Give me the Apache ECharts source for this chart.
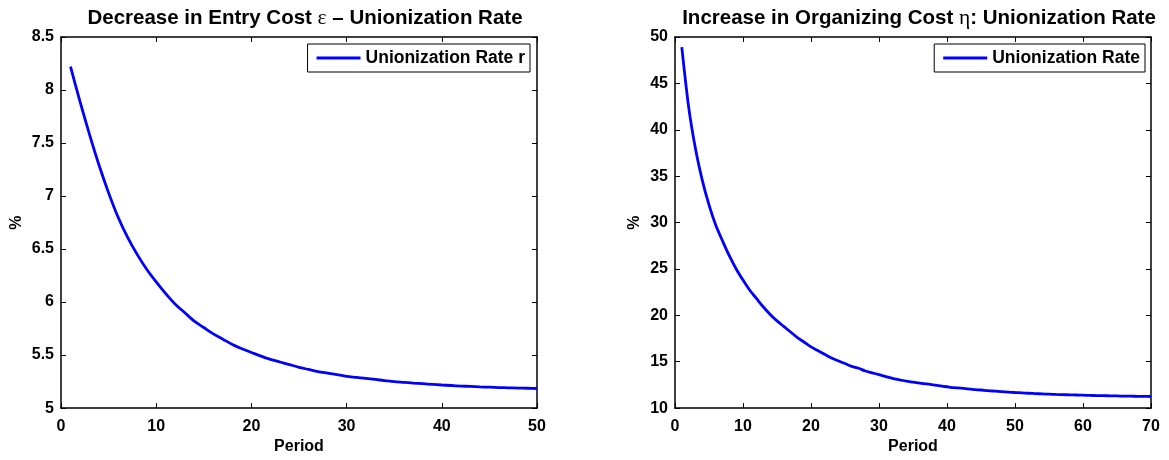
<!DOCTYPE html>
<html>
<head>
<meta charset="utf-8">
<script src="https://cdn.jsdelivr.net/npm/echarts@6/dist/echarts.min.js"></script>
<style>
html,body{margin:0;padding:0;background:#fff;}
#chart{width:1169px;height:460px;}
</style>
</head>
<body>
<div id="chart"></div>
<script>
// ---- Data ----
const leftTitle = ['Decrease in Entry Cost ', 'ε', ' – Unionization Rate'];
const rightTitle = ['Increase in Organizing Cost ', 'η', ': Unionization Rate'];
const leftSeriesName = 'Unionization Rate r';
const rightSeriesName = 'Unionization Rate';
const xAxisName = 'Period';
const yAxisName = '%';

const leftPeriods = Array.from({length: 50}, (_, i) => i + 1);
const leftRate = [
  8.22, 7.89, 7.58, 7.29, 7.03, 6.80, 6.61, 6.45, 6.31, 6.19,
  6.08, 5.98, 5.90, 5.82, 5.76, 5.70, 5.65, 5.60, 5.56, 5.525,
  5.49, 5.46, 5.435, 5.41, 5.385, 5.365, 5.345, 5.33, 5.315, 5.30,
  5.29, 5.28, 5.27, 5.26, 5.25, 5.243, 5.236, 5.23, 5.224, 5.218,
  5.213, 5.208, 5.204, 5.20, 5.197, 5.194, 5.191, 5.189, 5.187, 5.185
];

const rightPeriods = Array.from({length: 70}, (_, i) => i + 1);
const rightRate = [
  48.9, 42.5, 38.0, 34.6, 31.9, 29.7, 28.0, 26.4, 25.0, 23.8,
  22.7, 21.8, 20.9, 20.1, 19.4, 18.8, 18.2, 17.6, 17.1, 16.6,
  16.2, 15.8, 15.4, 15.1, 14.8, 14.5, 14.3, 14.0, 13.8, 13.6,
  13.4, 13.2, 13.05, 12.9, 12.8, 12.7, 12.6, 12.5, 12.4, 12.3,
  12.2, 12.15, 12.08, 12.0, 11.95, 11.88, 11.83, 11.78, 11.73, 11.68,
  11.64, 11.6, 11.56, 11.53, 11.5, 11.47, 11.45, 11.43, 11.41, 11.39,
  11.37, 11.35, 11.34, 11.32, 11.31, 11.29, 11.28, 11.27, 11.26, 11.25
];

const leftX = {min: 0, max: 50, interval: 10};
const leftY = {min: 5, max: 8.5, interval: 0.5};
const rightX = {min: 0, max: 70, interval: 10};
const rightY = {min: 10, max: 50, interval: 5};

// ---- Styling / layout ----
const FONT = '"Liberation Sans", Arial, Helvetica, sans-serif';
const SERIF = '"Liberation Serif", "DejaVu Serif", serif';
const BLUE = '#0000ff';
const grids = [
  {left: 61, top: 37, width: 476, height: 373},
  {left: 675, top: 37, width: 476, height: 373}
];

function pairs(xs, ys) { return xs.map((x, i) => [x, ys[i]]); }

function mkAxes(gi, xs, ys, yNameGap) {
  const line = {show: true, onZero: false, lineStyle: {color: '#000', width: 1.5}};
  const tick = {show: true, inside: true, length: 5, lineStyle: {color: '#000', width: 1}};
  const lbl = {color: '#000', fontFamily: FONT, fontWeight: 'bold', fontSize: 16};
  const xa = [
    {type: 'value', gridIndex: gi, position: 'bottom', min: xs.min, max: xs.max, interval: xs.interval,
     axisLine: line, axisTick: tick, splitLine: {show: false},
     axisLabel: Object.assign({margin: 10}, lbl),
     name: xAxisName, nameLocation: 'middle', nameGap: 29,
     nameTextStyle: {color: '#000', fontFamily: FONT, fontWeight: 'bold', fontSize: 16}},
    {type: 'value', gridIndex: gi, position: 'top', min: xs.min, max: xs.max, interval: xs.interval,
     axisLine: line, axisTick: tick, splitLine: {show: false}, axisLabel: {show: false}}
  ];
  const ya = [
    {type: 'value', gridIndex: gi, position: 'left', min: ys.min, max: ys.max, interval: ys.interval,
     axisLine: line, axisTick: tick, splitLine: {show: false},
     axisLabel: Object.assign({margin: 7}, lbl),
     name: yAxisName, nameLocation: 'middle', nameGap: yNameGap, nameRotate: 90,
     nameTextStyle: {color: '#000', fontFamily: FONT, fontWeight: 'bold', fontSize: 16}},
    {type: 'value', gridIndex: gi, position: 'right', min: ys.min, max: ys.max, interval: ys.interval,
     axisLine: line, axisTick: tick, splitLine: {show: false}, axisLabel: {show: false}}
  ];
  return {xa, ya};
}

const a0 = mkAxes(0, leftX, leftY, 36);
const a1 = mkAxes(1, rightX, rightY, 32);

function mkTitle(parts, cx) {
  return {
    text: '{b|' + parts[0] + '}{g|' + parts[1] + '}{b|' + parts[2] + '}',
    left: cx, top: 2, textAlign: 'center',
    textStyle: {
      rich: {
        b: {fontFamily: FONT, fontWeight: 'bold', fontSize: 20.5, color: '#000'},
        g: {fontFamily: SERIF, fontWeight: 'normal', fontSize: 21.5, color: '#000'}
      }
    }
  };
}

function mkLegend(name, right) {
  return {
    data: [name], right: right, top: 44, orient: 'horizontal',
    icon: 'rect', itemWidth: 44, itemHeight: 3, itemGap: 5,
    padding: [5, 5, 5, 9],
    borderColor: '#000', borderWidth: 1, backgroundColor: '#fff',
    textStyle: {color: '#000', fontFamily: FONT, fontWeight: 'bold', fontSize: 17.5},
    selectedMode: false
  };
}

const option = {
  backgroundColor: '#fff',
  animation: false,
  title: [mkTitle(leftTitle, 300), mkTitle(rightTitle, 914)],
  legend: [mkLegend(leftSeriesName, 639), mkLegend(rightSeriesName, 24)],
  grid: grids,
  xAxis: [a0.xa[0], a0.xa[1], a1.xa[0], a1.xa[1]],
  yAxis: [a0.ya[0], a0.ya[1], a1.ya[0], a1.ya[1]],
  series: [
    {name: leftSeriesName, type: 'line', xAxisIndex: 0, yAxisIndex: 0, data: pairs(leftPeriods, leftRate),
     symbol: 'none', smooth: 0.3, lineStyle: {color: BLUE, width: 2.8}, itemStyle: {color: BLUE}},
    {name: rightSeriesName, type: 'line', xAxisIndex: 2, yAxisIndex: 2, data: pairs(rightPeriods, rightRate),
     symbol: 'none', smooth: 0.3, lineStyle: {color: BLUE, width: 2.8}, itemStyle: {color: BLUE}}
  ]
};

const chart = echarts.init(document.getElementById('chart'), null, {renderer: 'canvas'});
chart.setOption(option);
</script>
</body>
</html>
